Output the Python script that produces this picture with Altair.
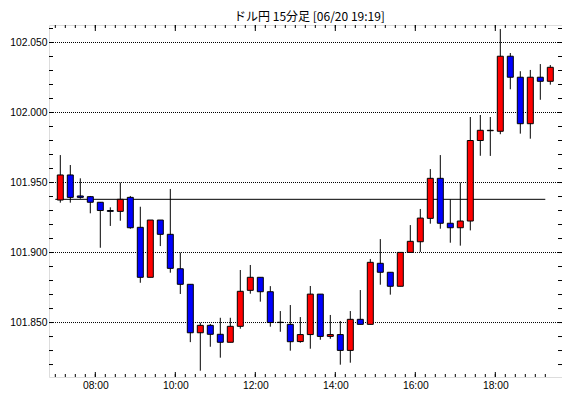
import altair as alt
import pandas as pd

# 15-minute candles, start times (hours)
start = [7 + 0.25 * i for i in range(50)]
open_ = [101.9375, 101.9554, 101.9404, 101.9399, 101.9359, 101.9300, 101.9294, 101.9394, 101.9180, 101.8823,
         101.9232, 101.9130, 101.8884, 101.8773, 101.8427, 101.8480, 101.8416, 101.8359, 101.8473, 101.8730,
         101.8823, 101.8720, 101.8502, 101.8487, 101.8364, 101.8414, 101.8703, 101.8401, 101.8414, 101.8301,
         101.8523, 101.8487, 101.8923, 101.8859, 101.8759, 101.9001, 101.9077, 101.9244, 101.9530, 101.9209,
         101.9177, 101.9225, 101.9800, 101.9870, 101.9866, 102.0402, 102.0252, 101.9920, 102.0252, 102.0223]
high = [101.9696, 101.9625, 101.9530, 101.9404, 101.9360, 101.9323, 101.9500, 101.9404, 101.9327, 101.9232,
        101.9232, 101.9454, 101.9000, 101.8773, 101.8499, 101.8490, 101.8534, 101.8534, 101.8875, 101.8911,
        101.8823, 101.8760, 101.8582, 101.8625, 101.8539, 101.8761, 101.8703, 101.8554, 101.8511, 101.8582,
        101.8732, 101.8954, 101.9096, 101.8859, 101.9001, 101.9196, 101.9311, 101.9596, 101.9696, 101.9380,
        101.9500, 101.9968, 101.9982, 101.9968, 102.0596, 102.0425, 102.0295, 102.0304, 102.0346, 102.0339]
low = [101.9356, 101.9356, 101.9384, 101.9280, 101.9034, 101.9190, 101.9227, 101.9170, 101.8784, 101.8823,
       101.9046, 101.8856, 101.8704, 101.8360, 101.8156, 101.8327, 101.8249, 101.8359, 101.8456, 101.8706,
       101.8649, 101.8470, 101.8434, 101.8299, 101.8356, 101.8313, 101.8377, 101.8384, 101.8199, 101.8213,
       101.8487, 101.8487, 101.8770, 101.8699, 101.8759, 101.9001, 101.9004, 101.9206, 101.9170, 101.9070,
       101.9049, 101.9158, 101.9691, 101.9690, 101.9845, 102.0166, 101.9849, 101.9813, 102.0091, 102.0199]
close = [101.9554, 101.9394, 101.9394, 101.9359, 101.9300, 101.9294, 101.9380, 101.9177, 101.8823, 101.9232,
         101.9130, 101.8887, 101.8773, 101.8427, 101.8480, 101.8416, 101.8359, 101.8473, 101.8723, 101.8823,
         101.8720, 101.8500, 101.8500, 101.8363, 101.8414, 101.8703, 101.8401, 101.8414, 101.8301, 101.8523,
         101.8487, 101.8930, 101.8859, 101.8759, 101.9001, 101.9080, 101.9246, 101.9530, 101.9209, 101.9177,
         101.9225, 101.9800, 101.9873, 101.9873, 102.0402, 102.0252, 101.9920, 102.0252, 102.0223, 102.0323]

ref_level = 101.938
ref_start, ref_end = 7.0, 19.25

y_labels = [101.850, 101.900, 101.950, 102.000, 102.050]
x_labels = [8, 10, 12, 14, 16, 18]
y_minor = [round(101.82 + 0.01 * i, 3) for i in range(25)]
x_minor = [7 + 0.25 * i for i in range(50)]

W, H = 513, 352
xdom = [6.8425, 19.6675]
ydom = [101.8111, 102.0625]

df = pd.DataFrame({"t": [s + 0.125 for s in start], "open": open_, "high": high,
                   "low": low, "close": close})
df["up"] = df["close"] >= df["open"]

xs = alt.Scale(domain=xdom, nice=False, zero=False, padding=0)
ys = alt.Scale(domain=ydom, nice=False, zero=False, padding=0)

LF = "Liberation Sans"
xaxis = alt.Axis(values=x_labels, labelExpr="(datum.value < 10 ? '0' : '') + datum.value + ':00'",
                 ticks=False, domain=False, grid=False, title=None, labelPadding=3,
                 labelFont=LF, labelFontSize=10.3, labelColor="black")
yaxis = alt.Axis(values=y_labels, format=".3f", ticks=False, domain=False, grid=False, title=None,
                 labelPadding=2, labelFont=LF, labelFontSize=10.3, labelColor="black")

grid = alt.Chart(pd.DataFrame({"y": y_labels})).mark_rule(
    color="black", strokeWidth=1, strokeDash=[1, 1]).encode(
    y=alt.Y("y:Q", scale=ys, axis=yaxis), x=alt.value(0), x2=alt.value(W))

refline = alt.Chart(pd.DataFrame({"y": [ref_level], "x": [ref_start], "x2": [ref_end]})).mark_rule(
    color="black", strokeWidth=1).encode(
    y=alt.Y("y:Q", scale=ys), x=alt.X("x:Q", scale=xs, axis=xaxis), x2="x2:Q")

wick = alt.Chart(df).mark_rule(color="black", strokeWidth=1).encode(
    x=alt.X("t:Q", scale=xs), y=alt.Y("low:Q", scale=ys), y2="high:Q")

body = alt.Chart(df).mark_bar(size=6, stroke="black", strokeWidth=1).encode(
    x=alt.X("t:Q", scale=xs), y=alt.Y("open:Q", scale=ys), y2="close:Q",
    color=alt.condition("datum.up", alt.value("#ff0000"), alt.value("#0000ff")))

ytk = pd.DataFrame({"y": y_minor})
ytick_l = alt.Chart(ytk).mark_rule(color="black").encode(
    y=alt.Y("y:Q", scale=ys), x=alt.value(0), x2=alt.value(4))
ytick_r = alt.Chart(ytk).mark_rule(color="black").encode(
    y=alt.Y("y:Q", scale=ys), x=alt.value(W - 4), x2=alt.value(W))

xtk = pd.DataFrame({"x": x_minor})
xmaj = pd.DataFrame({"x": x_labels})
xtick_b = alt.Chart(xtk).mark_rule(color="black").encode(
    x=alt.X("x:Q", scale=xs), y=alt.value(H - 3), y2=alt.value(H))
xtick_t = alt.Chart(xtk).mark_rule(color="black").encode(
    x=alt.X("x:Q", scale=xs), y=alt.value(0), y2=alt.value(3))
xmaj_b = alt.Chart(xmaj).mark_rule(color="black").encode(
    x=alt.X("x:Q", scale=xs), y=alt.value(H - 5), y2=alt.value(H))
xmaj_t = alt.Chart(xmaj).mark_rule(color="black").encode(
    x=alt.X("x:Q", scale=xs), y=alt.value(0), y2=alt.value(6))

chart = alt.layer(grid, refline, wick, body, ytick_l, ytick_r, xtick_b, xtick_t, xmaj_b, xmaj_t).properties(
    width=W, height=H,
    title=alt.TitleParams("ドル円 15分足 [06/20 19:19]", font="Noto Sans CJK JP", fontSize=12,
                          fontWeight="normal", color="black", anchor="middle", offset=1, dx=4),
    padding={"left": 41, "top": 17, "right": 0, "bottom": 13},
    autosize=alt.AutoSizeParams(type="none"),
).configure_view(stroke="black", strokeWidth=1).configure(background="white")

chart.save("out.html", embed_options={"renderer": "svg", "actions": False})
